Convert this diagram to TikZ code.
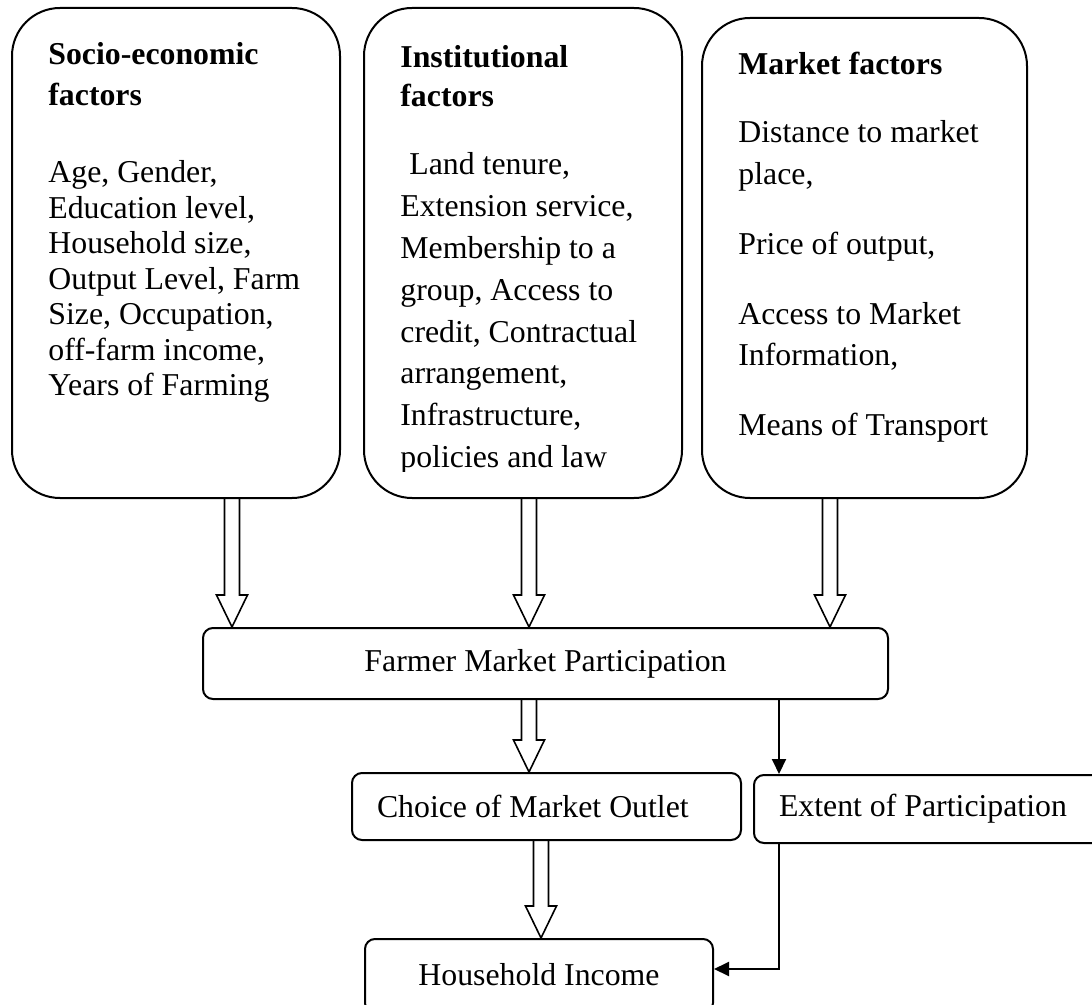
\documentclass[tikz,border=0pt]{standalone}
\usepackage{fontspec}
\setmainfont{Liberation Serif}
\usetikzlibrary{arrows.meta,calc}
\begin{document}
\begin{tikzpicture}[x=0.5pt,y=-0.5pt,
    font=\fontsize{15.9}{18}\selectfont,
    factorbox/.style={draw,line width=1pt,rounded corners=24pt,inner sep=0pt},
    stepbox/.style={draw,line width=1pt,rounded corners=5pt,inner ysep=0pt},
    txt/.style={anchor=base west,inner sep=0pt},
    hollow/.style={draw,line width=0.8pt,to path={let \p1=(\tikztostart),\p2=(\tikztotarget) in
      (\x1-3.75pt,\y1) -- (\x1-3.75pt,\y2+16pt) -- (\x1-7.75pt,\y2+16pt) -- (\x1,\y2)
      -- (\x1+7.75pt,\y2+16pt) -- (\x1+3.75pt,\y2+16pt) -- (\x1+3.75pt,\y1)}},
    flow/.style={draw,line width=1pt,-{Triangle[length=7.5pt,width=7pt]}}]
  \clip (0,0) rectangle (1092,1005);
  \fill[white] (0,0) rectangle (1092,1005);
  \coordinate (cA) at (232,0);
  \coordinate (cB) at (529,0);
  \coordinate (cC) at (830,0);
  \coordinate (cE) at (541,0);
  \coordinate (cF) at (779,0);
  \coordinate (cG) at (0,969);
  \node[factorbox,minimum width=164pt,minimum height=245pt] (socio) at (176,253) {};
  \node[factorbox,minimum width=159pt,minimum height=245pt] (inst) at (523,253) {};
  \node[factorbox,minimum width=162.5pt,minimum height=240pt] (mkt) at (864.5,258) {};
  \node[txt] (sociotext) at (48,65) {\parbox[t]{170pt}{\baselineskip=17.75pt
    \textbf{Socio-economic}\\[2.75pt]\textbf{factors}\\[20.75pt]
    Age, Gender,\\Education level,\\Household size,\\Output Level, Farm\\
    Size, Occupation,\\off-farm income,\\Years of Farming}};
  \begin{scope}
    \clip (364,0) rectangle (682,471);
    \node[txt] (insttext) at (400,68) {\parbox[t]{150pt}{\baselineskip=20.9pt
      \textbf{Institutional}\\[-1.4pt]\textbf{factors}\\[13.1pt]
      \hspace*{4.5pt}Land tenure,\\Extension service,\\Membership to a\\group, Access to\\
      credit, Contractual\\arrangement,\\Infrastructure,\\policies and law}};
  \end{scope}
  \node[txt] (mkttext) at (738,75) {\parbox[t]{150pt}{\baselineskip=20.75pt
    \textbf{Market factors}\\[13.25pt]
    Distance to market\\place,\\[14.25pt]Price of output,\\[14.25pt]
    Access to Market\\Information,\\[14.25pt]Means of Transport}};
  \node[stepbox,minimum width=342.5pt,minimum height=35.5pt] (fmp) at (545.5,663.5) {Farmer Market Participation};
  \node[stepbox,text width=169.5pt,inner xsep=12.5pt,minimum height=33.5pt,align=flush left] (choice) at (546.5,806.5) {Choice of Market Outlet};
  \node[stepbox,anchor=west,text width=155pt,inner xsep=12.5pt,minimum height=34pt,align=flush left] (extent) at (753,809) {Extent of Participation};
  \node[stepbox,minimum width=174pt,minimum height=37pt] (income) at (539,976) {\raisebox{2pt}{Household Income}};
  \path (socio.south -| cA) edge [hollow] (fmp.north -| cA);
  \path (inst.south -| cB) edge [hollow] (fmp.north -| cB);
  \path (mkt.south -| cC) edge [hollow] (fmp.north -| cC);
  \path (fmp.south -| cB) edge [hollow] (choice.north -| cB);
  \path (choice.south -| cE) edge [hollow] (income.north -| cE);
  \path (fmp.south -| cF) edge [flow] (extent.north -| cF);
  \path (extent.south -| cF) edge [flow,to path={|- (\tikztotarget)}] (income.east |- cG);
\end{tikzpicture}
\end{document}
